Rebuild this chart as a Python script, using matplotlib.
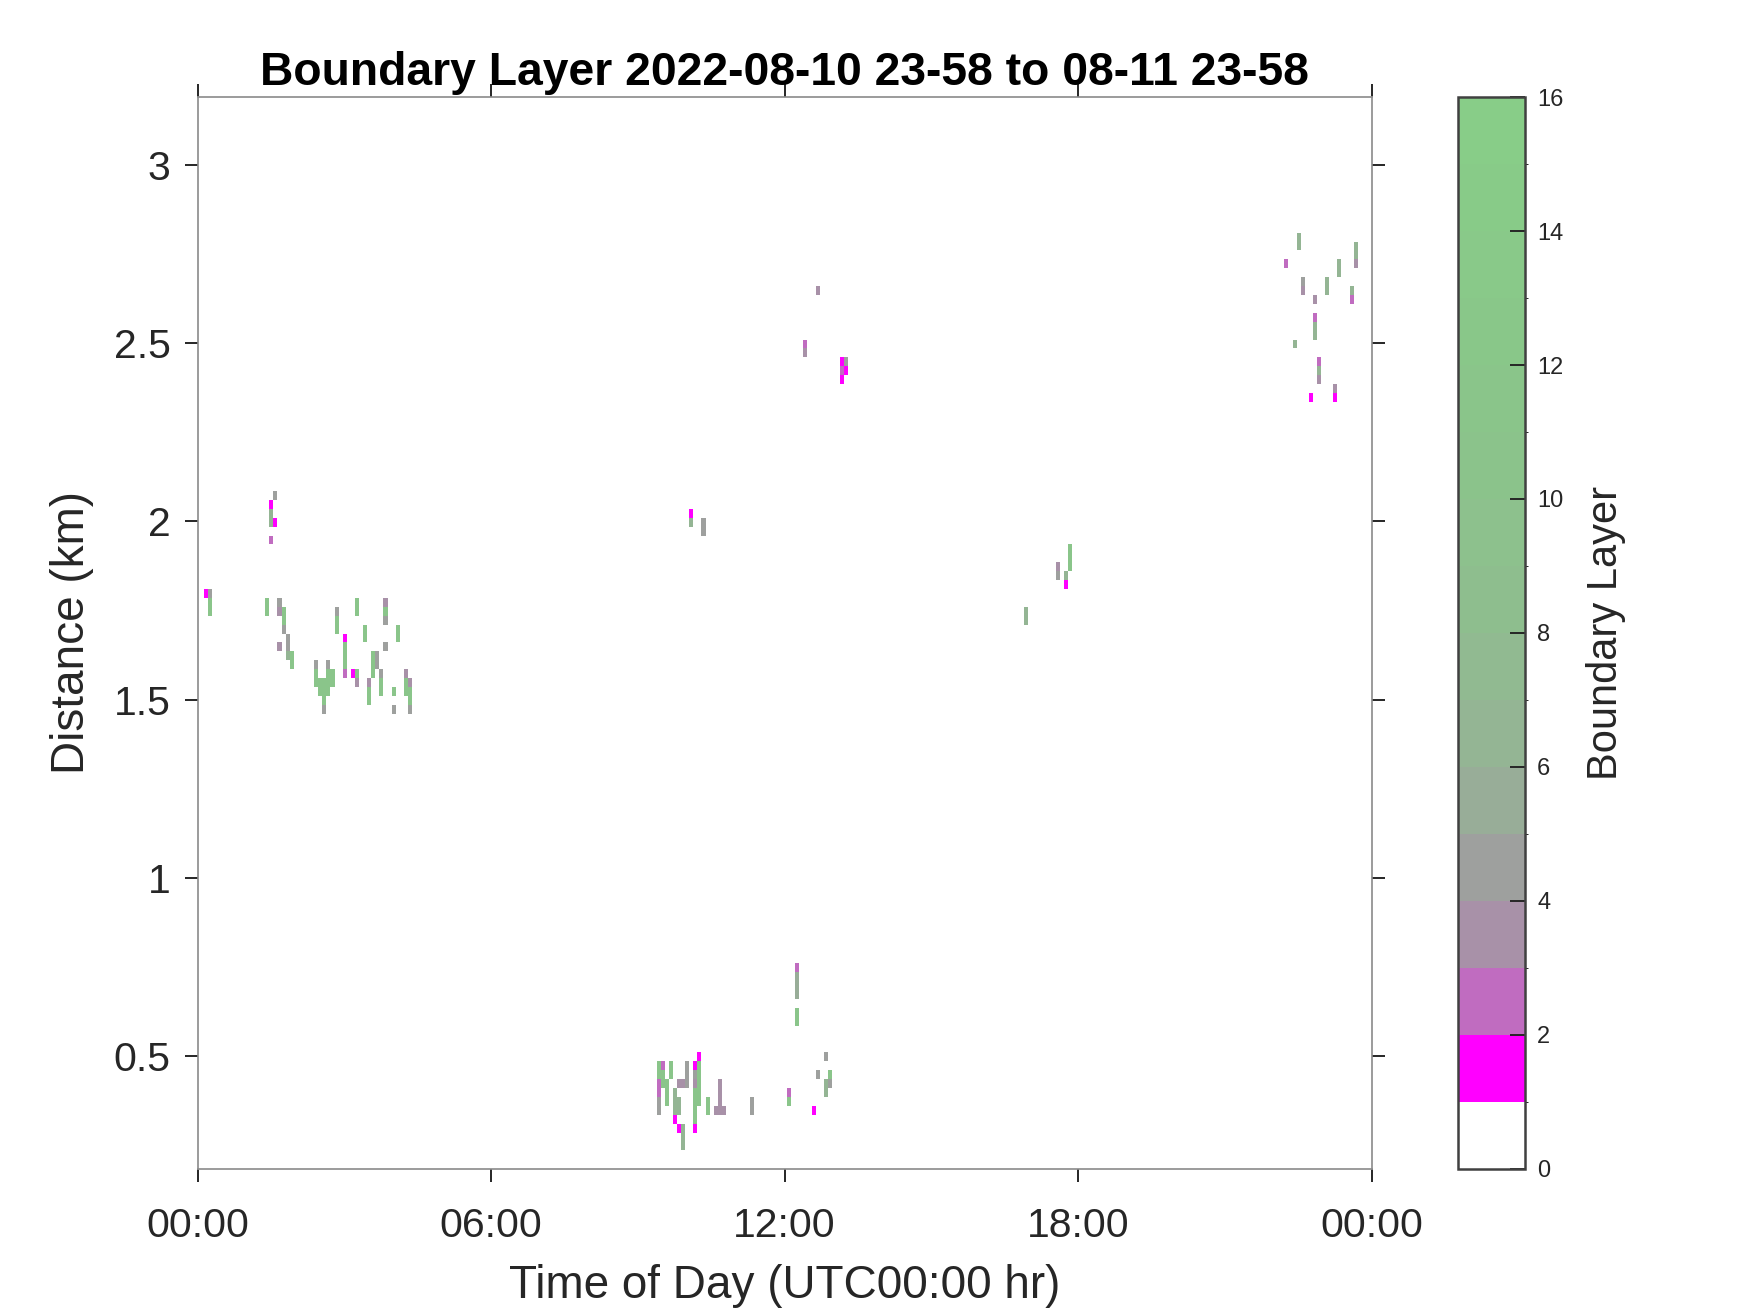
import numpy as np
import matplotlib.pyplot as plt
from matplotlib.colors import ListedColormap, BoundaryNorm

plt.rcParams['font.family'] = ['Liberation Sans', 'DejaVu Sans']

# boundary layer detections: (start minute of the day, bottom km, top km, value)
night = [
    (8, 1.786, 1.810, 1.5), (13, 1.786, 1.810, 4.5), (13, 1.736, 1.786, 11.5),
    (83, 1.736, 1.786, 11.5),
    (88, 2.035, 2.060, 1.5), (88, 1.987, 2.035, 6.5), (88, 1.939, 1.962, 2.5),
    (93, 2.060, 2.086, 4.5), (93, 1.987, 2.012, 1.5),
    (98, 1.761, 1.786, 4.5), (98, 1.736, 1.761, 3.5), (98, 1.636, 1.661, 3.5),
    (103, 1.709, 1.761, 11.5), (103, 1.686, 1.709, 4.5),
    (108, 1.636, 1.686, 4.5), (108, 1.611, 1.636, 6.5),
    (113, 1.586, 1.636, 11.5),
    (143, 1.586, 1.611, 4.5), (143, 1.536, 1.586, 11.5),
    (148, 1.508, 1.561, 11.5),
    (153, 1.485, 1.561, 11.5), (153, 1.461, 1.485, 4.5),
    (158, 1.586, 1.611, 4.5), (158, 1.508, 1.586, 11.5),
    (163, 1.536, 1.586, 11.5),
    (168, 1.736, 1.761, 4.5), (168, 1.686, 1.736, 11.5),
    (178, 1.661, 1.686, 1.5), (178, 1.586, 1.661, 11.5), (178, 1.561, 1.586, 2.5),
    (188, 1.561, 1.586, 1.5),
    (193, 1.736, 1.786, 11.5), (193, 1.561, 1.586, 11.5), (193, 1.536, 1.561, 3.5),
    (203, 1.661, 1.709, 11.5),
    (208, 1.536, 1.561, 3.5), (208, 1.485, 1.536, 11.5),
    (213, 1.561, 1.636, 11.5),
    (218, 1.586, 1.636, 4.5),
    (223, 1.561, 1.586, 4.5), (223, 1.508, 1.561, 11.5),
    (228, 1.761, 1.786, 3.5), (228, 1.736, 1.761, 11.5), (228, 1.709, 1.736, 4.5),
    (228, 1.636, 1.661, 4.5),
    (238, 1.508, 1.536, 11.5), (238, 1.461, 1.485, 4.5),
    (243, 1.661, 1.709, 11.5),
    (253, 1.561, 1.586, 3.5), (253, 1.508, 1.561, 11.5),
    (258, 1.536, 1.561, 3.5), (258, 1.485, 1.536, 11.5), (258, 1.461, 1.485, 4.5),
]

morning_low = [
    (563, 0.435, 0.485, 11.5), (563, 0.385, 0.435, 2.5), (563, 0.335, 0.385, 4.5),
    (568, 0.460, 0.485, 2.5), (568, 0.410, 0.460, 11.5),
    (573, 0.360, 0.435, 11.5),
    (578, 0.435, 0.485, 11.5),
    (583, 0.335, 0.410, 6.5), (583, 0.310, 0.335, 1.5),
    (588, 0.410, 0.435, 3.5), (588, 0.335, 0.385, 6.5), (588, 0.285, 0.310, 1.5),
    (593, 0.410, 0.435, 3.5), (593, 0.235, 0.310, 6.5),
    (598, 0.410, 0.485, 4.5),
    (608, 0.460, 0.485, 1.5), (608, 0.435, 0.460, 4.5), (608, 0.410, 0.435, 3.5),
    (608, 0.310, 0.410, 11.5), (608, 0.285, 0.310, 1.5),
    (613, 0.485, 0.510, 1.5), (613, 0.360, 0.485, 11.5),
    (623, 0.335, 0.385, 11.5),
    (633, 0.335, 0.360, 3.5),
    (638, 0.335, 0.435, 3.5),
    (643, 0.335, 0.360, 3.5),
    (678, 0.335, 0.385, 4.5),
    (723, 0.385, 0.410, 2.5), (723, 0.360, 0.385, 11.5),
    (733, 0.735, 0.760, 2.5), (733, 0.660, 0.735, 5.5), (733, 0.585, 0.635, 11.5),
    (753, 0.335, 0.360, 1.5),
    (758, 0.435, 0.460, 4.5),
    (768, 0.485, 0.510, 4.5), (768, 0.385, 0.435, 6.5),
    (773, 0.435, 0.460, 11.5), (773, 0.410, 0.435, 4.5),
]

midday_high = [
    (603, 2.010, 2.035, 1.5), (603, 1.985, 2.010, 6.5),
    (618, 1.960, 2.010, 4.5),
    (743, 2.485, 2.510, 2.5), (743, 2.460, 2.485, 3.5),
    (758, 2.635, 2.660, 3.5),
    (788, 2.435, 2.460, 1.5), (788, 2.410, 2.435, 2.5), (788, 2.385, 2.410, 1.5),
    (793, 2.435, 2.460, 4.5), (793, 2.410, 2.435, 1.5),
]

evening = [
    (1013, 1.710, 1.760, 6.5),
    (1053, 1.860, 1.885, 3.5), (1053, 1.835, 1.860, 4.5),
    (1063, 1.835, 1.860, 6.5), (1063, 1.810, 1.835, 1.5),
    (1068, 1.860, 1.935, 11.5),
]

late = [
    (1333, 2.710, 2.735, 2.5),
    (1343, 2.485, 2.510, 6.5),
    (1348, 2.760, 2.810, 6.5),
    (1353, 2.660, 2.685, 4.5), (1353, 2.635, 2.660, 3.5),
    (1363, 2.335, 2.360, 1.5),
    (1368, 2.610, 2.635, 3.5), (1368, 2.560, 2.585, 2.5), (1368, 2.510, 2.560, 6.5),
    (1373, 2.435, 2.460, 2.5), (1373, 2.410, 2.435, 6.5), (1373, 2.385, 2.410, 3.5),
    (1383, 2.635, 2.685, 6.5),
    (1393, 2.360, 2.385, 3.5), (1393, 2.335, 2.360, 1.5),
    (1398, 2.685, 2.735, 6.5),
    (1413, 2.635, 2.660, 6.5), (1413, 2.610, 2.635, 2.5),
    (1418, 2.735, 2.785, 6.5), (1418, 2.710, 2.735, 3.5),
]

level_colors = ['#ffffff', '#ff00ff', '#c06cc0', '#a891a8', '#9ea09e', '#98ad98',
                '#94b594', '#91ba91', '#8ebe8e', '#8dc18d', '#8bc38b', '#8ac58a',
                '#89c789', '#89c989', '#88cb88', '#88cd88']
x_ticks = [0, 6, 12, 18, 24]
x_ticklabels = ['00:00', '06:00', '12:00', '18:00', '00:00']
y_ticks = [0.5, 1, 1.5, 2, 2.5, 3]
y_ticklabels = ['0.5', '1', '1.5', '2', '2.5', '3']

# grid: 5 minute profiles starting 23:58, 25 m range gates
t_edges = (np.arange(290) * 5 - 2) / 60.0
z_edges = 0.01 + 0.025 * np.arange(131)
Z = np.full((len(z_edges) - 1, len(t_edges) - 1), np.nan)
for m, lo, hi, v in night + morning_low + midday_high + evening + late:
    k = int(round((m + 2) / 5))
    j0 = int(round((lo - 0.01) / 0.025))
    j1 = int(round((hi - 0.01) / 0.025))
    Z[j0:j1, k] = v

cmap = ListedColormap(level_colors)
norm = BoundaryNorm(np.arange(17), 16)

fig = plt.figure(figsize=(17.5, 13.13), dpi=100)
ax = fig.add_axes([0.1129, 0.110, 0.6709, 0.816])
pc = ax.pcolormesh(t_edges, z_edges, np.ma.masked_invalid(Z), cmap=cmap, norm=norm)
ax.set_xlim(0, 24)
ax.set_ylim(0.184, 3.19)
ax.set_xticks(x_ticks)
ax.set_xticklabels(x_ticklabels)
ax.set_yticks(y_ticks)
ax.set_yticklabels(y_ticklabels)
ax.tick_params(direction='out', length=9.5, width=1.4, color='#262626',
               labelcolor='#262626', labelsize=29.5, top=True, right=True)
ax.tick_params(axis='x', pad=18)
ax.tick_params(axis='y', pad=10)
for s in ax.spines.values():
    s.set_color('#8a8a8a')
    s.set_linewidth(1.2)

fig.text(0.4484, 0.9445, 'Boundary Layer 2022-08-10 23-58 to 08-11 23-58',
         ha='center', va='center', fontsize=33.3, fontweight='bold')
fig.text(0.4484, 0.0206, 'Time of Day (UTC00:00 hr)', ha='center', va='center',
         fontsize=33, color='#262626')
fig.text(0.0414, 0.518, 'Distance (km)', ha='center', va='center', rotation=90,
         fontsize=33, color='#262626')

cax = fig.add_axes([0.8329, 0.110, 0.0383, 0.816])
cb = fig.colorbar(pc, cax=cax, ticks=range(0, 17, 2))
cb.outline.set_edgecolor('#404040')
cb.outline.set_linewidth(1.8)
cax.tick_params(direction='in', length=11, width=1.4, color='#262626',
                labelcolor='#262626', labelsize=17, pad=9)
fig.text(0.918, 0.518, 'Boundary Layer', ha='center', va='center', rotation=90,
         fontsize=30, color='#262626')

fig.savefig('out.png', dpi=100)
